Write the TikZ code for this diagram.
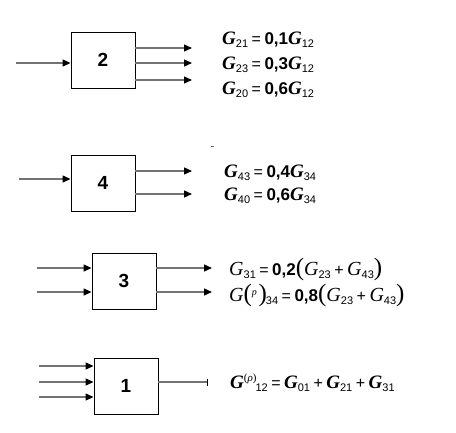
\documentclass[tikz,border=0pt]{standalone}
\usepackage{fontspec}
\setmainfont{Liberation Serif}
\newfontfamily\arial{Liberation Sans}
\usetikzlibrary{arrows.meta}
\newcommand\subn[1]{\raisebox{-3pt}{\arial\fontsize{11}{11}\selectfont #1}}
\newcommand\Gb[1]{{\fontsize{19}{19}\selectfont\bfseries\itshape G}\subn{#1}}
\newcommand\Gt[1]{{\fontsize{20}{20}\selectfont\itshape G}\subn{#1}}
\newcommand\eqt[1]{\hspace{3.5pt}{\arial\fontsize{16}{16}\selectfont #1}\hspace{3.5pt}}
\newcommand\bnum[1]{{\arial\bfseries\fontsize{17}{17}\selectfont #1}}
\newcommand\bpar[1]{{\fontsize{25}{25}\selectfont #1}}
\begin{document}
\begin{tikzpicture}[x=1pt,y=-1pt,
  box/.style={draw=black, line width=0.9pt, minimum width=64pt, minimum height=56pt,
    inner sep=0pt, font=\arial\bfseries\fontsize{19}{19}\selectfont},
  flow/.style={draw=black!55, line width=1.3pt,
    -{Triangle[length=8pt,width=7pt,color=black]}},
  endbar/.style={draw=black!55, line width=1.3pt, -{Bar[width=7pt,line width=1.5pt,color=black]}},
  eq/.style={anchor=base west, inner sep=0pt}]
\useasboundingbox (0,0) rectangle (456,432);
% block 2
\node[box] (b2) at (103,60) {2};
\coordinate (i2) at (16,63);
\draw[flow] (i2) -- (b2.west |- i2);
\coordinate (o21) at (192,48);
\coordinate (o23) at (192,63);
\coordinate (o20) at (192,80);
\draw[flow] (b2.east |- o21) -- (o21);
\draw[flow] (b2.east |- o23) -- (o23);
\draw[flow] (b2.east |- o20) -- (o20);
\node[eq] (e21) at (222,44) {\Gb{21}\eqt{=}\bnum{0,1}\Gb{12}};
\node[eq] (e23) at (222,69) {\Gb{23}\eqt{=}\bnum{0,3}\Gb{12}};
\node[eq] (e20) at (222,94) {\Gb{20}\eqt{=}\bnum{0,6}\Gb{12}};
% stray mark
\draw[black!60, line width=0.8pt] (211,146) -- (214,146);
% block 4
\node[box] (b4) at (103,183) {4};
\coordinate (i4) at (19,179);
\draw[flow] (i4) -- (b4.west |- i4);
\coordinate (o43) at (192,171);
\coordinate (o40) at (192,194);
\draw[flow] (b4.east |- o43) -- (o43);
\draw[flow] (b4.east |- o40) -- (o40);
\node[eq] (e43) at (224,177) {\Gb{43}\eqt{=}\bnum{0,4}\Gb{34}};
\node[eq] (e40) at (224,200) {\Gb{40}\eqt{=}\bnum{0,6}\Gb{34}};
% block 3
\node[box] (b3) at (124,281) {3};
\coordinate (i31) at (37,268);
\coordinate (i32) at (37,292);
\draw[flow] (i31) -- (b3.west |- i31);
\draw[flow] (i32) -- (b3.west |- i32);
\coordinate (o31) at (212,268);
\coordinate (o34) at (212,292);
\draw[flow] (b3.east |- o31) -- (o31);
\draw[flow] (b3.east |- o34) -- (o34);
\node[eq] (e31) at (229,275) {\Gt{31}\eqt{=}\bnum{0,2}\bpar{(}\Gt{23}\eqt{+}\Gt{43}\bpar{)}};
\node[eq] (e34) at (229,301) {{\fontsize{20}{20}\selectfont\itshape G}\bpar{(}\raisebox{6pt}{\fontsize{10}{10}\selectfont\itshape p}\,\bpar{)}\kern-1pt\subn{34}\eqt{=}\bnum{0,8}\bpar{(}\Gt{23}\eqt{+}\Gt{43}\bpar{)}};
% block 1
\node[box] (b1) at (126,386) {1};
\coordinate (i11) at (39,366);
\coordinate (i12) at (39,382);
\coordinate (i13) at (39,397);
\draw[flow] (i11) -- (b1.west |- i11);
\draw[flow] (i12) -- (b1.west |- i12);
\draw[flow] (i13) -- (b1.west |- i13);
\coordinate (o12) at (208,382);
\draw[endbar] (b1.east |- o12) -- (o12);
\node[eq] (e12) at (230,388) {{\fontsize{19}{19}\selectfont\bfseries\itshape G}\raisebox{7pt}{\fontsize{11}{11}\selectfont(\itshape ρ\upshape)}\kern-1pt\subn{12}\eqt{=}\Gb{01}\eqt{+}\Gb{21}\eqt{+}\Gb{31}};
\end{tikzpicture}
\end{document}
